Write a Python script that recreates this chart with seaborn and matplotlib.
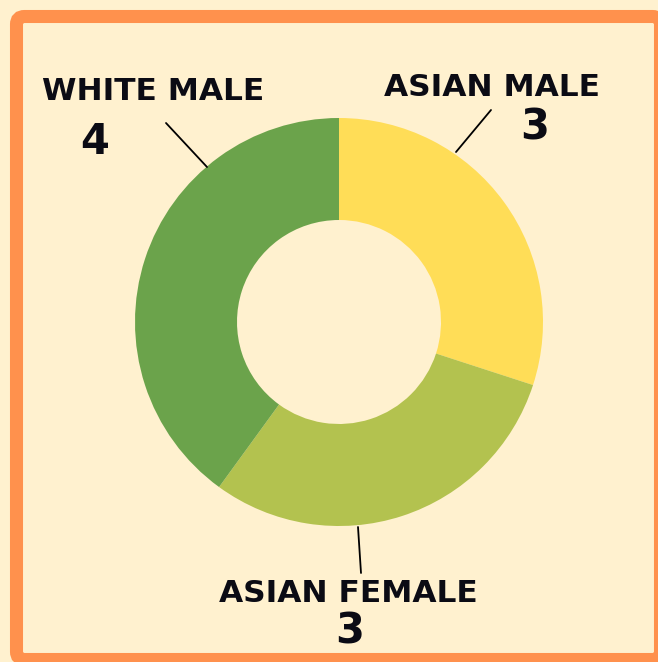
import matplotlib.pyplot as plt
import seaborn as sns
from matplotlib.patches import FancyBboxPatch

labels = ["ASIAN MALE", "ASIAN FEMALE", "WHITE MALE"]
counts = [3, 3, 4]
colors = ["#FFDD57", "#B3C24F", "#6BA34B"]

sns.set_style("white")
plt.rcParams["font.family"] = ["DejaVu Sans"]

W, H = 658, 662
bg = "#FFF1CF"

fig = plt.figure(figsize=(W / 100, H / 100), dpi=100, facecolor=bg)
ax = fig.add_axes([0, 0, 1, 1])
ax.set_xlim(0, W)
ax.set_ylim(0, H)
ax.set_aspect("equal")
ax.axis("off")

# orange frame, partly cut by the right and bottom edges
frame = FancyBboxPatch((16.5, 2.5), 644, 643, boxstyle="round,pad=0,rounding_size=8",
                       facecolor=bg, edgecolor="#FF914D", linewidth=9.4, zorder=0)
ax.add_patch(frame)

ax.pie(counts, colors=sns.color_palette(colors), startangle=90, counterclock=False,
       center=(339, H - 322), radius=204,
       wedgeprops=dict(width=102, linewidth=0))

ax.set_xlim(0, W)
ax.set_ylim(0, H)

txt = dict(color="#0B0B14", fontweight="bold", ha="center", va="center")

# leader lines
ax.plot([166, 207], [H - 123, H - 167], color="black", lw=1.3)
ax.plot([491, 456], [H - 110, H - 152], color="black", lw=1.3)
ax.plot([358, 361], [H - 527, H - 573], color="black", lw=1.3)

ax.text(153, H - 92, labels[2], fontsize=22.5, **txt)
ax.text(95, H - 142, str(counts[2]), fontsize=30, **txt)
ax.text(492, H - 88, labels[0], fontsize=22.5, **txt)
ax.text(535, H - 128, str(counts[0]), fontsize=30, **txt)
ax.text(348, H - 594, labels[1], fontsize=22.5, **txt)
ax.text(350, H - 632, str(counts[1]), fontsize=30, **txt)

fig.savefig("out.png", dpi=100, facecolor=bg)
